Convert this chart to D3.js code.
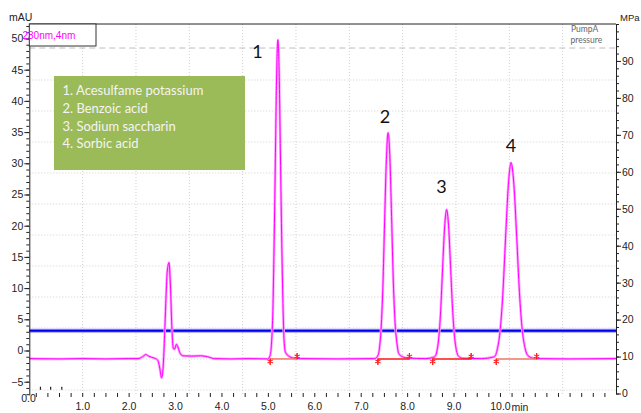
<!DOCTYPE html>
<html>
<head>
<meta charset="utf-8">
<script src="https://cdn.jsdelivr.net/npm/d3@7"></script>
<style>
  body { margin: 0; background: #fff; }
  .tick text { font-family: "Liberation Sans", Arial, sans-serif; font-size: 10.5px; fill: #222; }
  .tick line, .domain { stroke: #222; }
</style>
</head>
<body>
<div id="chart"></div>
<script>
// chromatogram: time (min), absorbance (mAU)
const traceTime = [-0.14, 0.5, 1.0, 1.5, 2.0, 2.2, 2.3, 2.37, 2.43, 2.5, 2.58, 2.63, 2.67, 2.71, 2.745, 2.775, 2.8, 2.83, 2.87, 2.9, 2.93, 2.96, 2.99, 3.03, 3.06, 3.1, 3.17, 3.35, 3.55, 3.7, 3.85, 4.2, 4.6, 5.0,
  5.05, 5.105, 5.13, 5.16, 5.188, 5.215, 5.243, 5.27, 5.3, 5.325, 5.35, 5.38, 5.45, 5.55, 5.7, 6.5, 7.3,
  7.365, 7.403, 7.44, 7.478, 7.515, 7.553, 7.59, 7.628, 7.665, 7.703, 7.74, 7.78, 7.82, 7.9, 8.0, 8.4,
  8.595, 8.638, 8.68, 8.723, 8.765, 8.808, 8.85, 8.893, 8.935, 8.978, 9.02, 9.063, 9.105, 9.2, 9.6,
  9.88, 9.94, 10.0, 10.06, 10.12, 10.18, 10.24, 10.3, 10.36, 10.42, 10.48, 10.54, 10.6, 10.7, 10.8, 11.5, 12.5];
const traceMau = [-1.3, -1.35, -1.3, -1.35, -1.3, -1.3, -1.0, -0.65, -0.9, -1.1, -1.3, -1.6, -2.8, -4.4, -2.5, 2.5, 7.5, 12.5, 14.1, 10.5, 4.0, 0.4, 0.2, 1.0, 0.6, -0.3, -0.85, -0.9, -0.85, -1.0, -1.3, -1.35, -1.3, -1.35,
  -0.75, 5.6, 15.1, 29.9, 43.8, 49.8, 44.5, 31.5, 17.0, 7.5, 1.5, -0.3, -0.9, -1.2, -1.3, -1.35, -1.3,
  -0.9, 0.3, 3.6, 10.3, 20.7, 30.6, 34.9, 31.0, 21.5, 11.0, 4.5, 1.2, -0.5, -1.0, -1.2, -1.3,
  -1.0, -0.25, 1.9, 6.4, 13.3, 19.8, 22.6, 20.0, 13.6, 6.8, 2.3, 0.0, -0.9, -1.25, -1.3,
  -1.0, 0.1, 2.95, 8.8, 17.9, 26.4, 30.1, 26.6, 18.3, 9.3, 3.3, 0.4, -0.8, -1.2, -1.3, -1.35, -1.3];

const peakNames = ["1. Acesulfame potassium", "2. Benzoic acid", "3. Sodium saccharin", "4. Sorbic acid"];
const peakNumbers = ["1", "2", "3", "4"];
const peakTime = [5.215, 7.59, 8.85, 10.24];
const peakMau = [49.8, 34.9, 22.6, 30.1];
const intStart = [5.05, 7.37, 8.55, 9.92];
const intEnd = [5.63, 8.05, 9.38, 10.79];
const intBase = -1.35;
const eventTimes = [0.10, 0.32, 0.56];

const timeTicks = [1, 2, 3, 4, 5, 6, 7, 8, 9, 10];
const mauTicks = [-5, 0, 5, 10, 15, 20, 25, 30, 35, 40, 45, 50];
const mpaTicks = [0, 10, 20, 30, 40, 50, 60, 70, 80, 90];
const pumpA = 93.5;    // MPa, grey dashed
const pumpB = 17;      // MPa, blue

const W = 641, H = 413;
const L = 29.3, R = 616, T = 24, B = 395;

const svg = d3.select("#chart").append("svg")
  .attr("width", W).attr("height", H)
  .style("display", "block");

const x = d3.scaleLinear().domain([-0.14, 12.5]).range([L, R]);
const yL = d3.scaleLinear().domain([-7.13, 52.32]).range([B, T]);
const yR = d3.scaleLinear().domain([0, 100]).range([393.5, T]);

// background grid (11 columns, rows every 31px)
const grid = svg.append("g").attr("stroke", "#cfcfcf").attr("stroke-dasharray", "1,2");
d3.range(1, 11).forEach(k => {
  const gx = L + k * (R - L) / 11;
  grid.append("line").attr("x1", gx).attr("x2", gx).attr("y1", T).attr("y2", B);
});
d3.range(0, 11).forEach(k => {
  const gy = 390 - k * 31;
  grid.append("line").attr("x1", L).attr("x2", R).attr("y1", gy).attr("y2", gy);
});

// pump pressures
svg.append("line")
  .attr("x1", L).attr("x2", R).attr("y1", yR(pumpA)).attr("y2", yR(pumpA))
  .attr("stroke", "#bdbdbd").attr("stroke-dasharray", "6,4");
svg.append("line")
  .attr("x1", L).attr("x2", R).attr("y1", yR(pumpB)).attr("y2", yR(pumpB))
  .attr("stroke", "#9999ff").attr("stroke-width", 4);
svg.append("line")
  .attr("x1", L).attr("x2", R).attr("y1", yR(pumpB)).attr("y2", yR(pumpB))
  .attr("stroke", "#0000ee").attr("stroke-width", 2);

// trace
const pts = traceTime.map((t, i) => [t, traceMau[i]]);
const line = d3.line().x(d => x(d[0])).y(d => yL(d[1])).curve(d3.curveMonotoneX);
svg.append("path").datum(pts).attr("d", line)
  .attr("fill", "none").attr("stroke", "#ffa0ff").attr("stroke-width", 2.6);
svg.append("path").datum(pts).attr("d", line)
  .attr("fill", "none").attr("stroke", "#ff00ff").attr("stroke-width", 1);

// integration baselines + markers
const intColor = ["#f07868", "#ff1a1a", "#ff1a1a", "#f07868"];
intStart.forEach((s, i) => {
  svg.append("line")
    .attr("x1", x(s)).attr("x2", x(intEnd[i]))
    .attr("y1", yL(intBase)).attr("y2", yL(intBase))
    .attr("stroke", intColor[i]).attr("stroke-width", 1.5);
});
const star = d3.symbol().type(d3.symbolAsterisk).size(26);
const marks = intStart.map(s => ({ t: s, dir: 1 })).concat(intEnd.map(e => ({ t: e, dir: -1 })));
marks.forEach(m => {
  const mx = x(m.t), my = yL(intBase);
  svg.append("line").attr("x1", mx).attr("x2", mx).attr("y1", my).attr("y2", my + m.dir * 6)
    .attr("stroke", "#ff2020").attr("stroke-width", 1.2);
  svg.append("path").attr("d", star)
    .attr("transform", `translate(${mx},${my + m.dir * 2.5})`)
    .attr("fill", "none").attr("stroke", "#ff2020").attr("stroke-width", 1.1);
});

// event marks
eventTimes.forEach(t => {
  svg.append("line").attr("x1", x(t)).attr("x2", x(t))
    .attr("y1", yL(-5.8)).attr("y2", yL(-6.3))
    .attr("stroke", "#222").attr("stroke-width", 1.2);
});

// axes
svg.append("g").attr("transform", `translate(${L},0)`)
  .call(d3.axisLeft(yL).tickValues(d3.range(-7, 53, 1)).tickSize(3).tickSizeOuter(0).tickFormat(""))
  .call(g => g.select(".domain").remove());
svg.append("g").attr("transform", `translate(${L},0)`)
  .call(d3.axisLeft(yL).tickValues(mauTicks).tickSize(5).tickSizeOuter(0).tickPadding(1).tickFormat(d3.format("d")));

svg.append("g").attr("transform", `translate(${R},0)`)
  .call(d3.axisRight(yR).tickValues(d3.range(0, 101, 2)).tickSize(3).tickSizeOuter(0).tickFormat(""))
  .call(g => g.select(".domain").remove());
svg.append("g").attr("transform", `translate(${R},0)`)
  .call(d3.axisRight(yR).tickValues(mpaTicks).tickSize(5).tickSizeOuter(0).tickPadding(1).tickFormat(d3.format("d")));

svg.append("g").attr("transform", `translate(0,393)`)
  .call(d3.axisBottom(x).tickValues(d3.range(0, 12.5, 0.25)).tickSize(4).tickSizeOuter(0).tickFormat(""))
  .call(g => g.select(".domain").remove());
svg.append("g").attr("transform", `translate(0,393)`)
  .call(d3.axisBottom(x).tickValues(timeTicks).tickSize(0).tickPadding(9.5).tickFormat(d3.format(".1f")))
  .call(g => g.select(".domain").remove());

const axisFont = "'Liberation Sans', Arial, sans-serif";
svg.append("text").attr("x", x(10) + 11.5).attr("y", 410.5)
  .attr("font-family", axisFont).attr("font-size", 10.5).attr("fill", "#222").text("min");
svg.append("text").attr("x", 28.5).attr("y", 401.5).attr("text-anchor", "middle")
  .attr("font-family", axisFont).attr("font-size", 10.5).attr("fill", "#222").text("0.0");
svg.append("text").attr("x", 9).attr("y", 21)
  .attr("font-family", axisFont).attr("font-size", 10.5).attr("fill", "#222").text("mAU");
svg.append("text").attr("x", 620).attr("y", 21)
  .attr("font-family", axisFont).attr("font-size", 9.5).attr("fill", "#222").text("MPa");

// top frame + channel box
svg.append("line").attr("x1", L).attr("x2", R).attr("y1", T).attr("y2", T).attr("stroke", "#222");
svg.append("rect").attr("x", L).attr("y", T).attr("width", 96 - L).attr("height", 46 - T)
  .attr("fill", "#fff").attr("stroke", "#333");
svg.append("text").attr("x", 22.5).attr("y", 38.5)
  .attr("font-family", axisFont).attr("font-size", 10).attr("fill", "#ff00ff").text("230nm,4nm");

svg.append("text").attr("x", 571).attr("y", 32)
  .attr("font-family", "Lato, sans-serif").attr("font-size", 8.5).attr("fill", "#666").text("PumpA");
svg.append("text").attr("x", 570.5).attr("y", 42.5)
  .attr("font-family", "Lato, sans-serif").attr("font-size", 8.5).attr("fill", "#666").text("pressure");

// legend box
svg.append("rect").attr("x", 54).attr("y", 76).attr("width", 191).attr("height", 94).attr("fill", "#9bbb59");
svg.append("g").selectAll("text").data(peakNames).join("text")
  .attr("x", 62.5).attr("y", (d, i) => 95 + i * 17.8)
  .attr("font-family", "Lato, sans-serif").attr("font-size", 13).attr("fill", "#f4f4f4")
  .text(d => d);

// peak numbers
const labelOff = [[-20.5, 18], [-3, -10], [-5, -16], [0, -11]];
svg.append("g").selectAll("text").data(peakNumbers).join("text")
  .attr("x", (d, i) => x(peakTime[i]) + labelOff[i][0])
  .attr("y", (d, i) => yL(peakMau[i]) + labelOff[i][1])
  .attr("text-anchor", "middle")
  .attr("font-family", "Lato, sans-serif").attr("font-size", 18).attr("fill", "#111")
  .text(d => d);
</script>
</body>
</html>
